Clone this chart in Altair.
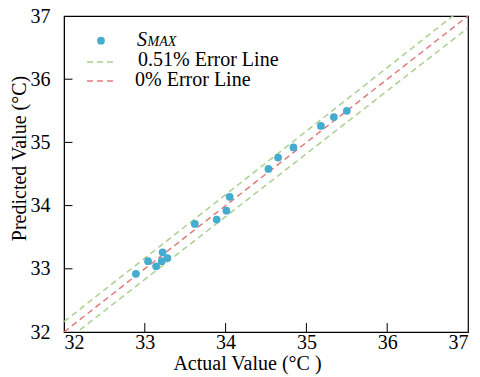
import altair as alt
import pandas as pd

# Measured data (S_MAX)
actual = [32.89, 33.04, 33.14, 33.21, 33.22, 33.28, 33.62, 33.89, 34.01, 34.05,
          34.53, 34.65, 34.84, 35.18, 35.34, 35.50]
predicted = [32.92, 33.12, 33.04, 33.12, 33.26, 33.17, 33.71, 33.78, 33.92, 34.14,
             34.58, 34.76, 34.92, 35.26, 35.40, 35.50]

error_pct = 0.51
line_x = [32.0, 37.0]
tick_vals = [33, 34, 35, 36]
label_vals = [32, 33, 34, 35, 36, 37]

FONT = "Liberation Serif"
PT_COLOR = "#45acd0"
GREEN = "#a9d18e"
RED = "#e07b7b"

xs = alt.Scale(domain=[32, 37], nice=False, zero=False)
ys = alt.Scale(domain=[32, 37], nice=False, zero=False)

pts = pd.DataFrame({"a": actual, "p": predicted})
lines = pd.DataFrame({
    "x": line_x * 3,
    "y": [line_x[0] * (1 + error_pct / 100), line_x[1] * (1 + error_pct / 100),
          line_x[0] * (1 - error_pct / 100), line_x[1] * (1 - error_pct / 100),
          line_x[0], line_x[1]],
    "g": ["up", "up", "lo", "lo", "zero", "zero"],
})

x_axis = alt.Axis(values=label_vals, format="d", tickSize=0, grid=False,
                  labelFont=FONT, labelFontSize=20, labelColor="black",
                  labelPadding=0, domainColor="black",
                  title="Actual Value (°C )", titleFont=FONT, titleFontSize=20,
                  titleFontWeight="normal", titleColor="black",
                  titleX=183, titleY=37, titleBaseline="alphabetic", titleAlign="center")
y_axis = alt.Axis(values=label_vals, format="d", tickSize=0, grid=False,
                  labelFont=FONT, labelFontSize=20, labelColor="black",
                  labelPadding=14, domainColor="black",
                  title="Predicted Value (°C)", titleFont=FONT, titleFontSize=20,
                  titleFontWeight="normal", titleColor="black",
                  titleX=-39, titleY=142, titleBaseline="alphabetic", titleAlign="center",
                  titleAngle=270)

base_lines = alt.Chart(lines)
green = base_lines.transform_filter("datum.g != 'zero'").mark_line(
    color=GREEN, strokeDash=[6, 4], strokeWidth=1.5, clip=True
).encode(x=alt.X("x:Q", scale=xs, axis=x_axis), y=alt.Y("y:Q", scale=ys, axis=y_axis),
         detail="g:N")
red = base_lines.transform_filter("datum.g == 'zero'").mark_line(
    color=RED, strokeDash=[6, 4], strokeWidth=1.5, clip=True
).encode(x=alt.X("x:Q", scale=xs), y=alt.Y("y:Q", scale=ys))

points = alt.Chart(pts).mark_circle(size=60, color=PT_COLOR, opacity=1).encode(
    x=alt.X("a:Q", scale=xs), y=alt.Y("p:Q", scale=ys))

# inward ticks
xt = pd.DataFrame({"v": tick_vals, "y0": [32] * 4, "y1": [32.142] * 4})
yt = pd.DataFrame({"v": tick_vals, "x0": [32] * 4, "x1": [32.105] * 4})
xticks = alt.Chart(xt).mark_rule(color="black", strokeWidth=1).encode(
    x=alt.X("v:Q", scale=xs), y=alt.Y("y0:Q", scale=ys), y2="y1:Q")
yticks = alt.Chart(yt).mark_rule(color="black", strokeWidth=1).encode(
    y=alt.Y("v:Q", scale=ys), x=alt.X("x0:Q", scale=xs), x2="x1:Q")

# legend (in data coordinates)
leg_pt = alt.Chart(pd.DataFrame({"x": [32.458], "y": [36.609]})).mark_circle(
    size=60, color=PT_COLOR, opacity=1).encode(x=alt.X("x:Q", scale=xs), y=alt.Y("y:Q", scale=ys))
leg_lines = pd.DataFrame({"x0": [32.285, 32.285], "x1": [32.606, 32.606],
                          "y": [36.272, 35.971], "c": ["g", "r"]})
leg_g = alt.Chart(leg_lines).transform_filter("datum.c == 'g'").mark_rule(
    color=GREEN, strokeDash=[6, 4], strokeWidth=1.5).encode(
    x=alt.X("x0:Q", scale=xs), x2="x1:Q", y=alt.Y("y:Q", scale=ys))
leg_r = alt.Chart(leg_lines).transform_filter("datum.c == 'r'").mark_rule(
    color=RED, strokeDash=[6, 4], strokeWidth=1.5).encode(
    x=alt.X("x0:Q", scale=xs), x2="x1:Q", y=alt.Y("y:Q", scale=ys))

leg_text = pd.DataFrame({
    "x": [32.916, 32.879],
    "y": [36.214, 35.892],
    "t": [f"{error_pct}% Error Line", "0% Error Line"],
})
leg_t = alt.Chart(leg_text).mark_text(
    font=FONT, fontSize=20, align="left", baseline="alphabetic", color="black").encode(
    x=alt.X("x:Q", scale=xs), y=alt.Y("y:Q", scale=ys), text="t:N")
s_t = alt.Chart(pd.DataFrame({"x": [32.903], "y": [36.533], "t": ["S"]})).mark_text(
    font=FONT, fontSize=20, fontStyle="italic", align="left", baseline="alphabetic",
    color="black").encode(x=alt.X("x:Q", scale=xs), y=alt.Y("y:Q", scale=ys), text="t:N")
sub_t = alt.Chart(pd.DataFrame({"x": [33.033], "y": [36.525], "t": ["MAX"]})).mark_text(
    font=FONT, fontSize=14, fontStyle="italic", align="left", baseline="alphabetic",
    color="black").encode(x=alt.X("x:Q", scale=xs), y=alt.Y("y:Q", scale=ys), text="t:N")

chart = alt.layer(green, red, xticks, yticks, points, leg_pt, leg_g, leg_r, leg_t, s_t, sub_t).properties(
    width=404, height=316,
    autosize=alt.AutoSizeParams(type="none"),
    padding={"left": 56, "top": 8, "right": 4, "bottom": 45},
    background="white",
).configure_view(stroke="black", strokeWidth=1.2)

chart.save("out.html", embed_options={"renderer": "svg", "actions": False})
